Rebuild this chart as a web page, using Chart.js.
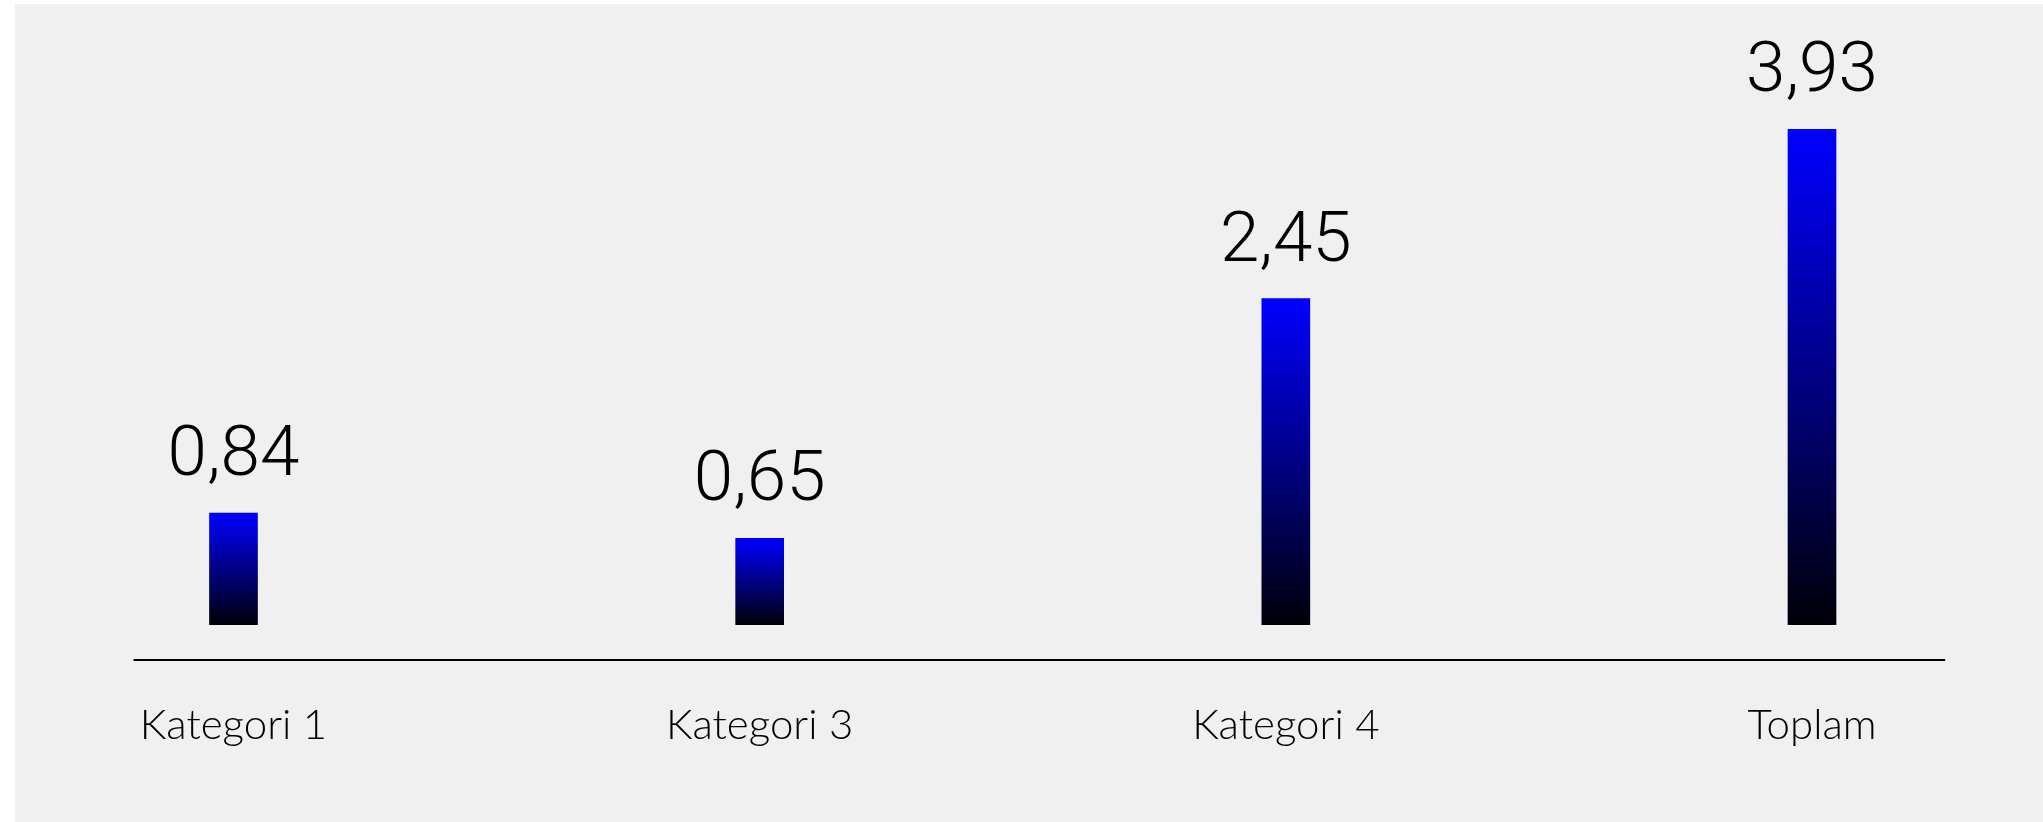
<!DOCTYPE html>
<html>
<head>
<meta charset="utf-8">
<script src="https://cdn.jsdelivr.net/npm/chart.js@4.4.1/dist/chart.umd.min.js"></script>
<style>
  html, body { margin: 0; padding: 0; background: #ffffff; }
  #wrap { width: 2043px; height: 822px; position: relative; }
</style>
</head>
<body>
<div id="wrap"><canvas id="c" width="2043" height="822"></canvas></div>
<script>
const categories = ["Kategori 1", "Kategori 3", "Kategori 4", "Toplam"];
const values = [0.84, 0.65, 2.45, 3.93];
const valueLabels = ["0,84", "0,65", "2,45", "3,93"];

const bgPlugin = {
  id: 'bgPanel',
  beforeDraw(chart) {
    const ctx = chart.ctx;
    ctx.save();
    ctx.fillStyle = '#f0f0f0';
    ctx.fillRect(15, 4, chart.width - 15, chart.height - 4);
    ctx.restore();
  }
};

const axisLinePlugin = {
  id: 'axisLine',
  afterDatasetsDraw(chart) {
    const ctx = chart.ctx;
    const x = chart.scales.x;
    const step = x.getPixelForValue(1) - x.getPixelForValue(0);
    const y = chart.chartArea.bottom + 35;
    ctx.save();
    ctx.strokeStyle = '#000000';
    ctx.lineWidth = 2;
    ctx.beginPath();
    ctx.moveTo(x.getPixelForValue(0) - step * 0.19, y);
    ctx.lineTo(x.getPixelForValue(categories.length - 1) + step * 0.253, y);
    ctx.stroke();
    ctx.restore();
  }
};

const valueLabelPlugin = {
  id: 'valueLabels',
  afterDatasetsDraw(chart) {
    const ctx = chart.ctx;
    const meta = chart.getDatasetMeta(0);
    ctx.save();
    ctx.font = '300 71px Roboto';
    ctx.fillStyle = '#000000';
    ctx.textAlign = 'center';
    ctx.textBaseline = 'alphabetic';
    meta.data.forEach((bar, i) => {
      const top = Math.max(bar.y, chart.chartArea.top);
      ctx.fillText(valueLabels[i], bar.x, top - 38);
    });
    ctx.restore();
  }
};

function barGradient(context) {
  const chart = context.chart;
  const area = chart.chartArea;
  if (!area) return '#0000ff';
  const yScale = chart.scales.y;
  const v = context.raw;
  const top = Math.max(yScale.getPixelForValue(v), area.top);
  const bottom = yScale.getPixelForValue(0);
  const g = chart.ctx.createLinearGradient(0, top, 0, bottom);
  g.addColorStop(0, '#0000ff');
  g.addColorStop(1, '#000008');
  return g;
}

new Chart(document.getElementById('c'), {
  type: 'bar',
  data: {
    labels: categories,
    datasets: [{
      data: values,
      backgroundColor: barGradient,
      borderWidth: 0,
      barThickness: 48,
      clip: { left: false, right: false, top: 0, bottom: 0 }
    }]
  },
  options: {
    responsive: false,
    animation: false,
    devicePixelRatio: 1,
    layout: { padding: { left: 233.5, right: 231, top: 129, bottom: 47 } },
    plugins: { legend: { display: false }, tooltip: { enabled: false } },
    scales: {
      x: {
        offset: false,
        grid: { display: false, drawTicks: false },
        border: { display: false },
        afterFit: (s) => { s.height = 150; },
        ticks: {
          color: '#000000',
          font: { family: 'Lato', size: 42, weight: 300 },
          padding: 75,
          maxRotation: 0,
          autoSkip: false
        }
      },
      y: {
        display: false,
        min: 0,
        max: 3.724
      }
    }
  },
  plugins: [bgPlugin, axisLinePlugin, valueLabelPlugin]
});
</script>
</body>
</html>
